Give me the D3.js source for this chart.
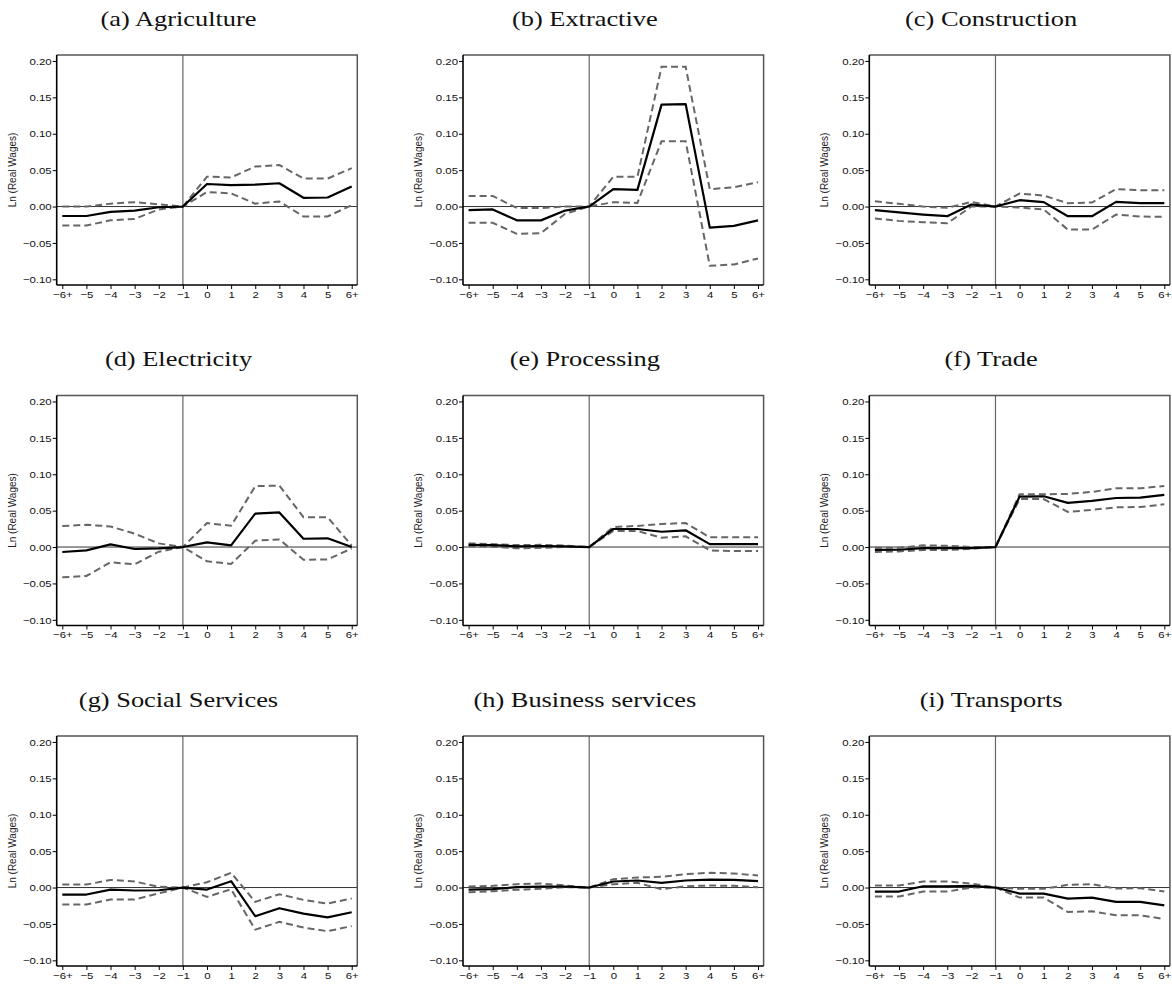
<!DOCTYPE html>
<html>
<head>
<meta charset="utf-8">
<script src="https://cdn.jsdelivr.net/npm/d3@7/dist/d3.min.js"></script>
<style>
  html, body { margin: 0; padding: 0; background: #fff; }
  svg { display: block; }
</style>
</head>
<body>
<svg id="chart" width="1172" height="987"></svg>
<script>
// Event-time periods relative to the treatment year (−1 is the reference period)
const periods = ["−6+", "−5", "−4", "−3", "−2", "−1", "0", "1", "2", "3", "4", "5", "6+"];
const yTicks = [-0.10, -0.05, 0.00, 0.05, 0.10, 0.15, 0.20];

const sectors = ["(a) Agriculture", "(b) Extractive", "(c) Construction",
                 "(d) Electricity", "(e) Processing", "(f) Trade",
                 "(g) Social Services", "(h) Business services", "(i) Transports"];

// Point estimates and 95% confidence bounds, one array per sector
const agricultureEst = [-0.013, -0.013, -0.0073, -0.0055, -0.001, 0, 0.031, 0.0295, 0.030, 0.032, 0.012, 0.0124, 0.0275];
const agricultureHi  = [0.000, 0.000, 0.004, 0.006, 0.003, 0, 0.041, 0.040, 0.055, 0.057, 0.0385, 0.0385, 0.0527];
const agricultureLo  = [-0.026, -0.026, -0.019, -0.017, -0.004, 0, 0.020, 0.018, 0.004, 0.007, -0.0137, -0.0137, 0.002];

const extractiveEst = [-0.005, -0.004, -0.019, -0.019, -0.0055, 0, 0.0238, 0.0229, 0.140, 0.1408, -0.029, -0.0265, -0.019];
const extractiveHi  = [0.0146, 0.0146, -0.002, -0.002, 0.000, 0, 0.041, 0.041, 0.192, 0.192, 0.0238, 0.0265, 0.0334];
const extractiveLo  = [-0.0224, -0.0224, -0.0375, -0.0366, -0.010, 0, 0.006, 0.005, 0.0896, 0.0896, -0.0814, -0.0796, -0.0713];

const constructionEst = [-0.005, -0.008, -0.011, -0.0133, 0.0028, 0, 0.0087, 0.006, -0.0133, -0.0133, 0.0064, 0.0046, 0.0046];
const constructionHi  = [0.0073, 0.0037, 0.000, -0.0018, 0.0064, 0, 0.0179, 0.015, 0.0046, 0.0055, 0.0239, 0.0225, 0.0225];
const constructionLo  = [-0.0165, -0.0197, -0.0216, -0.023, 0.000, 0, -0.0014, -0.004, -0.0317, -0.0317, -0.011, -0.0138, -0.0142];

const electricityEst = [-0.0068, -0.0046, 0.0037, -0.0027, -0.0018, 0, 0.0064, 0.0023, 0.046, 0.0475, 0.0114, 0.012, 0.000];
const electricityHi  = [0.0288, 0.0306, 0.0283, 0.0183, 0.005, 0, 0.0329, 0.0292, 0.0836, 0.0845, 0.041, 0.041, 0.002];
const electricityLo  = [-0.0416, -0.0397, -0.021, -0.0237, -0.0064, 0, -0.0196, -0.0233, 0.0087, 0.0105, -0.0174, -0.017, -0.002];

const processingEst = [0.003, 0.0027, 0.001, 0.0014, 0.001, 0, 0.0248, 0.0248, 0.021, 0.023, 0.004, 0.004, 0.004];
const processingHi  = [0.005, 0.004, 0.0027, 0.003, 0.002, 0, 0.0275, 0.029, 0.0317, 0.033, 0.0133, 0.0133, 0.0133];
const processingLo  = [0.0014, 0.0005, -0.0018, -0.001, 0.000, 0, 0.022, 0.022, 0.0128, 0.0147, -0.0046, -0.0055, -0.0055];

const tradeEst = [-0.004, -0.0037, -0.0014, -0.0014, -0.0014, 0, 0.0693, 0.0697, 0.0606, 0.0633, 0.0674, 0.0679, 0.0716];
const tradeHi  = [-0.001, -0.001, 0.0023, 0.0018, 0.000, 0, 0.0725, 0.0725, 0.073, 0.0757, 0.0807, 0.0807, 0.0839];
const tradeLo  = [-0.0069, -0.006, -0.0041, -0.0041, -0.0023, 0, 0.066, 0.066, 0.0482, 0.051, 0.0546, 0.055, 0.0587];

const socialEst = [-0.0096, -0.0096, -0.0028, -0.0041, -0.0037, 0, -0.0028, 0.0087, -0.0394, -0.0284, -0.0358, -0.041, -0.034];
const socialHi  = [0.0041, 0.0041, 0.0105, 0.0083, 0.001, 0, 0.0073, 0.0202, -0.0197, -0.0092, -0.017, -0.022, -0.015];
const socialLo  = [-0.0234, -0.0234, -0.0165, -0.0165, -0.008, 0, -0.0128, -0.0023, -0.0578, -0.0472, -0.055, -0.060, -0.053];

const businessEst = [-0.0028, -0.0023, 0.0005, 0.0014, 0.0014, 0, 0.0083, 0.0097, 0.0064, 0.0097, 0.011, 0.0106, 0.0087];
const businessHi  = [0.0014, 0.0023, 0.0046, 0.0055, 0.0028, 0, 0.0115, 0.0138, 0.0147, 0.0184, 0.0202, 0.0193, 0.0166];
const businessLo  = [-0.0064, -0.005, -0.0032, -0.0018, 0.0005, 0, 0.0046, 0.0064, -0.0023, 0.0018, 0.0028, 0.0023, 0.0005];

const transportsEst = [-0.0055, -0.0055, 0.0018, 0.0018, 0.0023, 0, -0.0083, -0.0083, -0.0152, -0.0138, -0.0198, -0.0198, -0.0244];
const transportsHi  = [0.0028, 0.0028, 0.0083, 0.0083, 0.0055, 0, -0.0018, -0.0018, 0.0037, 0.0046, -0.0014, -0.0009, -0.0055];
const transportsLo  = [-0.0124, -0.0124, -0.0055, -0.0055, 0.000, 0, -0.0138, -0.0138, -0.0336, -0.0326, -0.0382, -0.0382, -0.0432];

const panels = [
  { title: sectors[0], est: agricultureEst,  hi: agricultureHi,  lo: agricultureLo },
  { title: sectors[1], est: extractiveEst,   hi: extractiveHi,   lo: extractiveLo },
  { title: sectors[2], est: constructionEst, hi: constructionHi, lo: constructionLo },
  { title: sectors[3], est: electricityEst,  hi: electricityHi,  lo: electricityLo },
  { title: sectors[4], est: processingEst,   hi: processingHi,   lo: processingLo },
  { title: sectors[5], est: tradeEst,        hi: tradeHi,        lo: tradeLo },
  { title: sectors[6], est: socialEst,       hi: socialHi,       lo: socialLo },
  { title: sectors[7], est: businessEst,     hi: businessHi,     lo: businessLo },
  { title: sectors[8], est: transportsEst,   hi: transportsHi,   lo: transportsLo }
];

// Grid layout
const colX = [0, 406.3, 812.6];
const rowY = [0, 340.5, 681];
const plot = { left: 56.7, right: 357.3, top: 55, bottom: 285 };
const stretch = 1.2;   // horizontal stretch of the lettering

const x = d3.scaleLinear().domain([-0.232, periods.length - 1 + 0.232]).range([plot.left, plot.right]);
const y = d3.scaleLinear().domain([-0.1078, 0.2082]).range([plot.bottom, plot.top]);

const svg = d3.select("#chart");
const fmt = d3.format(".2f");

const line = d3.line().x((d, i) => x(i)).y(d => y(d));

panels.forEach((p, k) => {
  const g = svg.append("g")
    .attr("transform", `translate(${colX[k % 3]},${rowY[Math.floor(k / 3)]})`);

  // Panel title
  g.append("text")
    .attr("transform", `translate(178.5,25.7) scale(${stretch},1)`)
    .attr("text-anchor", "middle")
    .style("font-family", "'Liberation Serif', 'Times New Roman', serif")
    .style("font-size", "22px")
    .attr("fill", "#111")
    .text(p.title);

  // Reference lines: zero and the omitted period
  g.append("line")
    .attr("x1", plot.left).attr("x2", plot.right)
    .attr("y1", y(0)).attr("y2", y(0))
    .attr("stroke", "#333").attr("stroke-width", 1);
  g.append("line")
    .attr("x1", x(5)).attr("x2", x(5))
    .attr("y1", plot.top).attr("y2", plot.bottom)
    .attr("stroke", "#666").attr("stroke-width", 1.2);

  // Confidence bounds
  [p.hi, p.lo].forEach(arr => {
    g.append("path")
      .attr("d", line(arr))
      .attr("fill", "none")
      .attr("stroke", "#666")
      .attr("stroke-width", 2)
      .attr("stroke-dasharray", "7,4");
  });

  // Point estimates
  g.append("path")
    .attr("d", line(p.est))
    .attr("fill", "none")
    .attr("stroke", "#000")
    .attr("stroke-width", 2.2)
    .attr("stroke-linejoin", "round");

  // Frame (top and right)
  g.append("path")
    .attr("d", `M${plot.left},${plot.top}H${plot.right}V${plot.bottom}`)
    .attr("fill", "none")
    .attr("stroke", "#555")
    .attr("stroke-width", 1.5);

  // Left axis
  const yAxis = g.append("g")
    .attr("transform", `translate(${plot.left},0)`)
    .call(d3.axisLeft(y).tickValues(yTicks).tickSize(4).tickFormat(fmt));
  yAxis.select(".domain").attr("stroke", "#000").attr("stroke-width", 1.6)
    .attr("d", `M0,${plot.top}V${plot.bottom}`);
  yAxis.selectAll(".tick line").attr("stroke", "#000");
  yAxis.selectAll(".tick text")
    .attr("x", -5 / stretch)
    .attr("dy", "0.34em")
    .attr("transform", `scale(${stretch},1)`)
    .style("font-family", "'Liberation Sans', Arial, sans-serif")
    .style("font-size", "9.5px")
    .attr("fill", "#111");

  // Bottom axis
  const xAxis = g.append("g")
    .attr("transform", `translate(0,${plot.bottom})`)
    .call(d3.axisBottom(x).tickValues(d3.range(periods.length)).tickSize(4)
      .tickFormat(i => periods[i]));
  xAxis.select(".domain").attr("stroke", "#000").attr("stroke-width", 1.6)
    .attr("d", `M${plot.left},0H${plot.right}`);
  xAxis.selectAll(".tick line").attr("stroke", "#000");
  xAxis.selectAll(".tick text")
    .attr("y", 13).attr("dy", 0)
    .attr("transform", `scale(${stretch},1)`)
    .style("font-family", "'Liberation Sans', Arial, sans-serif")
    .style("font-size", "9.5px")
    .attr("fill", "#111");

  // Axis title
  g.append("text")
    .attr("transform", `translate(15.5,${(plot.top + plot.bottom) / 2}) rotate(-90)`)
    .attr("text-anchor", "middle")
    .style("font-family", "'Liberation Sans', Arial, sans-serif")
    .style("font-size", "10px")
    .attr("fill", "#222")
    .text("Ln (Real Wages)");
});
</script>
</body>
</html>
